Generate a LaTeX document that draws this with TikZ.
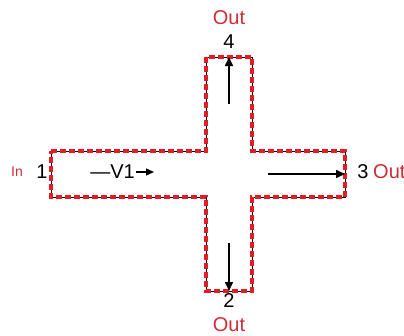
\documentclass[tikz,border=0pt]{standalone}
\usepackage{fontspec}
\setmainfont{Liberation Sans}
\usetikzlibrary{arrows.meta}
\definecolor{dashred}{RGB}{230,28,36}
\definecolor{txtred}{RGB}{205,45,55}
\tikzset{
  lbl/.style={inner sep=0pt, font=\fontsize{20}{22}\selectfont},
  redlbl/.style={lbl, text=txtred},
  flow/.style={-{Triangle[length=9pt,width=8pt]}, line width=1.6pt, black},
  outline/.style={draw=dashred, line width=3.4pt, dash pattern=on 6pt off 3pt},
}
\begin{document}
\begin{tikzpicture}[x=1pt,y=-1pt]
\useasboundingbox (0,0) rectangle (404,335);
% cross outline
\coordinate (p1) at (51,174);
\coordinate (p2) at (229,291);
\coordinate (p3) at (345,174);
\coordinate (p4) at (229,57);
\def\crosspath{(51,151) -- (206,151) -- (206,57) -- (252,57) -- (252,151) -- (345,151) -- (345,197) -- (252,197) -- (252,291) -- (206,291) -- (206,197) -- (51,197) -- cycle}
\draw[black, line width=1pt] \crosspath;
\draw[outline] \crosspath;
% port labels
\node[lbl] (n1) at (42,172) {1};
\node[redlbl, font=\fontsize{14}{16}\selectfont] (in) at (17,172) {In};
\node[lbl] (n3) at (363,172) {3};
\node[redlbl, anchor=west] (o3) at (373,172) {Out};
\node[lbl] (n4) at (229,42) {4};
\node[redlbl] (o4) at (229,18) {Out};
\node[lbl] (n2) at (229,301) {2};
\node[redlbl] (o2) at (229,325) {Out};
% V1 label
\node[lbl, anchor=east] (v1) at (135,172) {—V1};
\coordinate (v1e) at (154,172);
\draw[flow, line width=1.3pt, -{Triangle[length=8pt,width=7pt]}] (v1.east) ++(1,0) -- (v1e);
% flow arrows
\coordinate (a3s) at (268,174);
\draw[flow] (a3s) -- (p3);
\coordinate (a4s) at (229,104);
\draw[flow] (a4s) -- (p4);
\coordinate (a2s) at (229,243);
\draw[flow] (a2s) -- (p2);
\end{tikzpicture}
\end{document}
